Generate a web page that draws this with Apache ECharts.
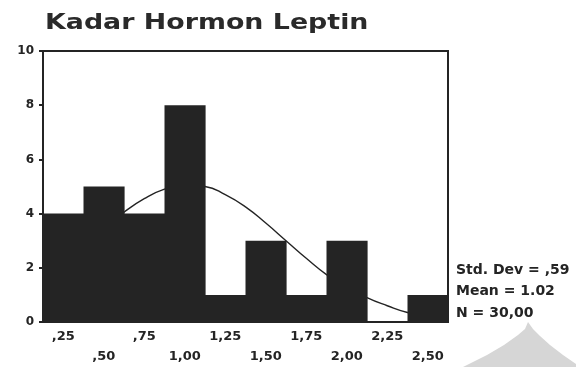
<!DOCTYPE html>
<html>
<head>
<meta charset="utf-8">
<script src="https://cdn.jsdelivr.net/npm/echarts@6/dist/echarts.min.js"></script>
<style>
  html, body { margin: 0; padding: 0; background: #fff; }
  #chart { width: 576px; height: 367px; }
</style>
</head>
<body>
<div id="chart"></div>
<script>
// Histogram bins (centre values and their labels) and frequencies
const binCenters = [0.25, 0.5, 0.75, 1.0, 1.25, 1.5, 1.75, 2.0, 2.25, 2.5];
const binLabels = [',25', ',50', ',75', '1,00', '1,25', '1,50', '1,75', '2,00', '2,25', '2,50'];
const frequencies = [4, 5, 4, 8, 1, 3, 1, 3, 0, 1];
const binWidth = 0.25;

// Fitted normal curve, sampled along the leptin axis
const curveX = [0.125, 0.25, 0.375, 0.5, 0.625, 0.75, 0.875, 1.0, 1.125, 1.25, 1.375,
                1.5, 1.625, 1.75, 1.875, 2.0, 2.125, 2.25, 2.375, 2.5, 2.625];
const curveY = [1.6, 2.15, 2.8, 3.45, 4.05, 4.55, 4.9, 5.05, 5.0, 4.7, 4.25,
                3.65, 3.0, 2.35, 1.75, 1.3, 0.9, 0.6, 0.35, 0.22, 0.12];

const yTicks = [0, 2, 4, 6, 8, 10];
const statsLines = ['Std. Dev = ,59', 'Mean = 1.02', 'N = 30,00'];
const titleText = 'Kadar Hormon Leptin';

const ink = '#242424';
const labelFont = 'DejaVu Sans';

const chart = echarts.init(document.getElementById('chart'), null, { renderer: 'canvas' });

chart.setOption({
  animation: false,
  backgroundColor: '#ffffff',
  grid: {
    left: 43, right: 128, top: 51, bottom: 44,
    show: true, borderColor: ink, borderWidth: 2, backgroundColor: 'transparent'
  },
  xAxis: [
    {
      type: 'category',
      data: binLabels,
      boundaryGap: true,
      axisLine: { lineStyle: { color: ink, width: 2 } },
      axisTick: { alignWithLabel: true, length: 4, lineStyle: { color: ink, width: 3 } },
      axisLabel: {
        interval: 0,
        margin: 5,
        fontFamily: labelFont,
        fontWeight: 'bold',
        fontSize: 13,
        lineHeight: 20,
        color: ink,
        formatter: (v, i) => (i % 2 === 0 ? v : '\n' + v)
      }
    },
    {
      type: 'value',
      min: binCenters[0] - binWidth / 2,
      max: binCenters[binCenters.length - 1] + binWidth / 2,
      show: false
    }
  ],
  yAxis: {
    type: 'value',
    min: yTicks[0],
    max: yTicks[yTicks.length - 1],
    interval: 2,
    splitLine: { show: false },
    axisLine: { show: true, lineStyle: { color: ink, width: 2 } },
    axisTick: { show: true, length: 4, lineStyle: { color: ink, width: 2 } },
    axisLabel: {
      margin: 9,
      fontFamily: labelFont,
      fontWeight: 'bold',
      fontSize: 12,
      color: ink
    }
  },
  series: [
    {
      type: 'line',
      xAxisIndex: 1,
      data: curveX.map((x, i) => [x, curveY[i]]),
      smooth: true,
      showSymbol: false,
      lineStyle: { color: ink, width: 1.4 },
      z: 1
    },
    {
      // histogram bars spanning each bin edge to edge
      type: 'custom',
      xAxisIndex: 1,
      data: binCenters.map((c, i) => [c, frequencies[i]]),
      renderItem: (params, api) => {
        const c = api.value(0);
        const n = api.value(1);
        if (!n) return null;
        const p0 = api.coord([c - binWidth / 2, n]);
        const p1 = api.coord([c + binWidth / 2, 0]);
        return {
          type: 'rect',
          shape: { x: p0[0], y: p0[1], width: p1[0] - p0[0] + 0.6, height: p1[1] - p0[1] },
          style: { fill: ink }
        };
      },
      z: 2
    }
  ],
  graphic: [
    {
      type: 'text',
      x: 45,
      y: 12,
      scaleX: 1.22,
      style: {
        text: titleText,
        font: 'bold 22px "DejaVu Sans"',
        fill: '#2a2a2a'
      }
    },
    ...statsLines.map((t, i) => ({
      type: 'text',
      x: 456,
      y: 270 + i * 21.5,
      style: {
        text: t,
        font: 'bold 14px "DejaVu Sans"',
        fill: ink,
        textAlign: 'left',
        textVerticalAlign: 'middle'
      }
    })),
    {
      type: 'polygon',
      z: -1,
      shape: {
        points: [[528, 322], [525, 329], [518, 335], [504, 345], [487, 355], [463, 367],
                 [576, 367], [576, 364], [563, 355], [550, 345], [540, 336], [533, 329]]
      },
      style: { fill: '#d6d6d6' }
    }
  ]
});
</script>
</body>
</html>
